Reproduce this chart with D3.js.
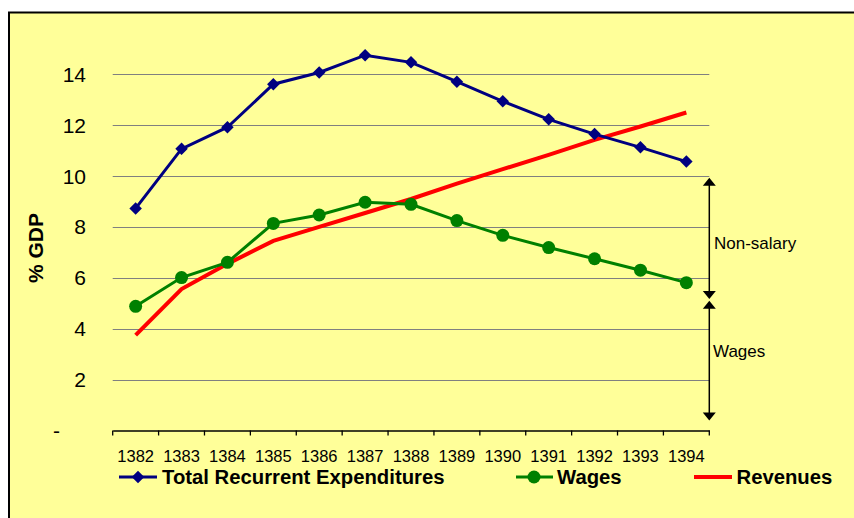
<!DOCTYPE html>
<html><head><meta charset="utf-8">
<script src="https://cdn.jsdelivr.net/npm/d3@7"></script>
<style>body{margin:0;background:#fff}svg{display:block;font-family:"Liberation Sans",Arial,sans-serif}</style>
</head><body><svg id="c" width="854" height="518"></svg>
<script>
const years = ["1382","1383","1384","1385","1386","1387","1388","1389","1390","1391","1392","1393","1394"];
const totalRecurrent = [8.73,11.07,11.92,13.61,14.07,14.75,14.47,13.71,12.94,12.23,11.65,11.13,10.57];
const wages = [4.88,6.01,6.61,8.14,8.47,8.97,8.89,8.25,7.67,7.19,6.75,6.30,5.81];
const revenues = [3.75,5.56,6.55,7.45,8.0,8.55,9.1,9.7,10.27,10.83,11.42,11.95,12.5];
const yTicks = [0,2,4,6,8,10,12,14];
const yTickLabels = ["-","2","4","6","8","10","12","14"];
const annotNonSalary = [9.93,5.17];
const annotWages = [5.1,0.39];

const svg = d3.select("#c");
svg.append("rect").attr("x",9).attr("y",12.5).attr("width",860).attr("height",520)
  .attr("fill","#FFFF99").attr("stroke","#000").attr("stroke-width",2);

const x = d3.scaleBand().domain(years).range([112.7,709.3]);
const y = d3.scaleLinear().domain([0,14]).range([430.5,74.3]);
const cx = d => x(d)+x.bandwidth()/2;

// gridlines
svg.append("g").selectAll("line").data(yTicks.filter(v=>v>0)).join("line")
  .attr("x1",112.7).attr("x2",709.3).attr("y1",d=>Math.round(y(d))+0.5).attr("y2",d=>Math.round(y(d))+0.5)
  .attr("stroke","#808080").attr("stroke-width",1.2);

// y tick labels
svg.append("g").selectAll("text").data(yTicks).join("text")
  .attr("x",d=>d===0?60:86).attr("y",d=>y(d)+7.5).attr("text-anchor","end")
  .attr("font-size",21).attr("fill","#000").text((d,i)=>yTickLabels[i]);

// x axis
const xa = svg.append("g").attr("transform","translate(0,430.5)")
  .call(d3.axisBottom(x).tickSize(0).tickPadding(0));
xa.select(".domain").attr("stroke","#000").attr("stroke-width",1.5);
xa.selectAll("text").remove();
const edges = years.map(d=>x(d)).concat([709.3]);
xa.selectAll("line.tk").data(edges).join("line").attr("class","tk")
  .attr("x1",d=>d).attr("x2",d=>d).attr("y1",0).attr("y2",5).attr("stroke","#000").attr("stroke-width",1.3);
svg.append("g").selectAll("text").data(years).join("text")
  .attr("x",d=>cx(d)).attr("y",461.5).attr("text-anchor","middle")
  .attr("font-size",16.5).attr("fill","#000").text(d=>d);

// y axis title
svg.append("text").attr("transform","translate(43,248) rotate(-90)").attr("text-anchor","middle")
  .attr("font-size",21).attr("font-weight","bold").text("% GDP");

const line = d3.line().x((d,i)=>cx(years[i])).y(d=>y(d));
svg.append("path").datum(revenues).attr("d",line).attr("fill","none").attr("stroke","#FF0000").attr("stroke-width",4);
svg.append("path").datum(wages).attr("d",line).attr("fill","none").attr("stroke","#008000").attr("stroke-width",3);
svg.append("path").datum(totalRecurrent).attr("d",line).attr("fill","none").attr("stroke","#000080").attr("stroke-width",3);

const diamond = d3.symbol().type(d3.symbolSquare).size(78);
svg.append("g").selectAll("path").data(totalRecurrent).join("path")
  .attr("d",diamond()).attr("fill","#000080")
  .attr("transform",(d,i)=>`translate(${cx(years[i])},${y(d)}) rotate(45)`);
svg.append("g").selectAll("circle").data(wages).join("circle")
  .attr("cx",(d,i)=>cx(years[i])).attr("cy",d=>y(d)).attr("r",6.5).attr("fill","#008000");

// annotation arrows
const ax = 709.3;
function arrowHead(xp, yp, dir){ // dir -1 pointing up, 1 pointing down
  svg.append("path").attr("d",`M${xp},${yp} L${xp-6.5},${yp-dir*8} L${xp+6.5},${yp-dir*8} Z`).attr("fill","#000");
}
[annotNonSalary, annotWages].forEach(a=>{
  const y1=y(a[0]), y2=y(a[1]);
  svg.append("line").attr("x1",ax).attr("x2",ax).attr("y1",y1+2).attr("y2",y2-2).attr("stroke","#000").attr("stroke-width",1.5);
  arrowHead(ax,y1,-1); arrowHead(ax,y2,1);
});
svg.append("text").attr("x",714).attr("y",249).attr("font-size",17).text("Non-salary");
svg.append("text").attr("x",713).attr("y",357).attr("font-size",17).text("Wages");

// legend
const lg = svg.append("g");
const ly = 477;
lg.append("line").attr("x1",119).attr("x2",157).attr("y1",ly).attr("y2",ly).attr("stroke","#000080").attr("stroke-width",3);
lg.append("path").attr("d",diamond()).attr("fill","#000080").attr("transform",`translate(138,${ly}) rotate(45)`);
lg.append("text").attr("x",162).attr("y",ly+7).attr("font-size",20.3).attr("font-weight","bold").text("Total Recurrent Expenditures");
lg.append("line").attr("x1",516).attr("x2",553).attr("y1",ly).attr("y2",ly).attr("stroke","#008000").attr("stroke-width",3);
lg.append("circle").attr("cx",534).attr("cy",ly).attr("r",6.5).attr("fill","#008000");
lg.append("text").attr("x",557).attr("y",ly+7).attr("font-size",20.3).attr("font-weight","bold").text("Wages");
lg.append("line").attr("x1",694).attr("x2",732).attr("y1",ly).attr("y2",ly).attr("stroke","#FF0000").attr("stroke-width",4);
lg.append("text").attr("x",736.5).attr("y",ly+7).attr("font-size",20.3).attr("font-weight","bold").text("Revenues");
</script></body></html>
